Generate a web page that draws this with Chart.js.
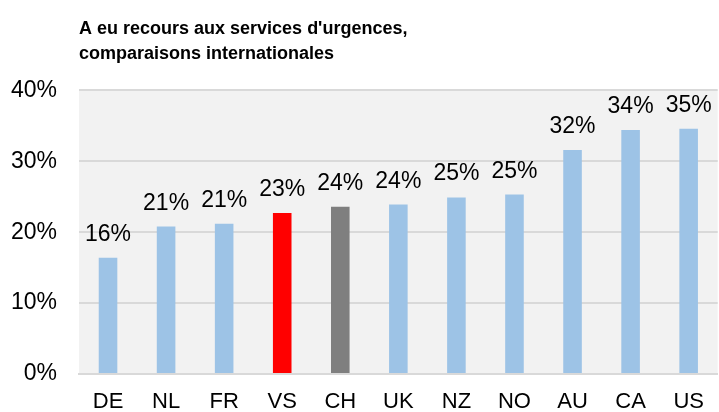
<!DOCTYPE html>
<html><head><meta charset="utf-8">
<script src="https://cdn.jsdelivr.net/npm/chart.js@4/dist/chart.umd.min.js"></script>
<style>html,body{margin:0;padding:0;background:#fff;}#wrap{width:719px;height:412px;}</style>
</head><body><div id="wrap"><canvas id="c" width="719" height="412"></canvas></div>
<script>
const categories = ["DE","NL","FR","VS","CH","UK","NZ","NO","AU","CA","US"];
const values = [16.4, 20.8, 21.2, 22.7, 23.6, 23.9, 24.9, 25.3, 31.6, 34.4, 34.6];
const labels = ["16%","21%","21%","23%","24%","24%","25%","25%","32%","34%","35%"];
const barColors = ["#9DC3E6","#9DC3E6","#9DC3E6","#FF0000","#7F7F7F","#9DC3E6","#9DC3E6","#9DC3E6","#9DC3E6","#9DC3E6","#9DC3E6"];
const yTicks = [0,10,20,30,40];
const titleLines = ["A eu recours aux services d'urgences,", "comparaisons internationales"];

const FONT = "'Liberation Sans', Arial, sans-serif";

const bgPlugin = {
  id: 'bg',
  beforeDraw(chart) {
    const {ctx, chartArea: a} = chart;
    ctx.save();
    ctx.fillStyle = '#F2F2F2';
    ctx.fillRect(a.left, a.top, a.right - a.left, a.bottom - a.top + 1);
    ctx.restore();
  }
};
const labelPlugin = {
  id: 'vlabels',
  afterDatasetsDraw(chart) {
    const {ctx} = chart;
    const meta = chart.getDatasetMeta(0);
    ctx.save();
    ctx.font = "23px " + FONT;
    ctx.fillStyle = '#000';
    ctx.textAlign = 'center';
    ctx.textBaseline = 'alphabetic';
    meta.data.forEach((bar, i) => {
      ctx.fillText(labels[i], bar.x, bar.y - 17);
    });
    ctx.restore();
  }
};

new Chart(document.getElementById('c'), {
  type: 'bar',
  data: {
    labels: categories,
    datasets: [{
      data: values,
      backgroundColor: barColors,
      borderWidth: 0,
      barPercentage: 0.32,
      categoryPercentage: 1.0
    }]
  },
  options: {
    responsive: false,
    animation: false,
    devicePixelRatio: 1,
    layout: { padding: { left: 0, right: 0, top: 0, bottom: 0 } },
    plugins: {
      legend: { display: false },
      tooltip: { enabled: false },
      title: {
        display: true,
        text: titleLines,
        align: 'start',
        fullSize: false,
        color: '#000',
        font: { family: FONT, size: 18, weight: 'bold', lineHeight: 1.4 },
        padding: { top: 16, bottom: 24 }
      }
    },
    scales: {
      x: {
        afterFit(axis) { axis.height = 38; },
        grid: { display: false, drawTicks: false },
        border: { display: true, color: '#D9D9D9', width: 2 },
        ticks: { color: '#000', font: { family: FONT, size: 22 }, padding: 15, maxRotation: 0 }
      },
      y: {
        min: 0, max: 40,
        afterFit(axis) { axis.width = 79; },
        afterBuildTicks(axis) { axis.ticks = yTicks.map(v => ({value: v})); },
        grid: { color: '#D9D9D9', lineWidth: 2, drawTicks: false },
        border: { display: false },
        ticks: { color: '#000', font: { family: FONT, size: 23 }, padding: 22,
                 callback: v => v + '%' }
      }
    }
  },
  plugins: [bgPlugin, labelPlugin]
});
</script></body></html>
